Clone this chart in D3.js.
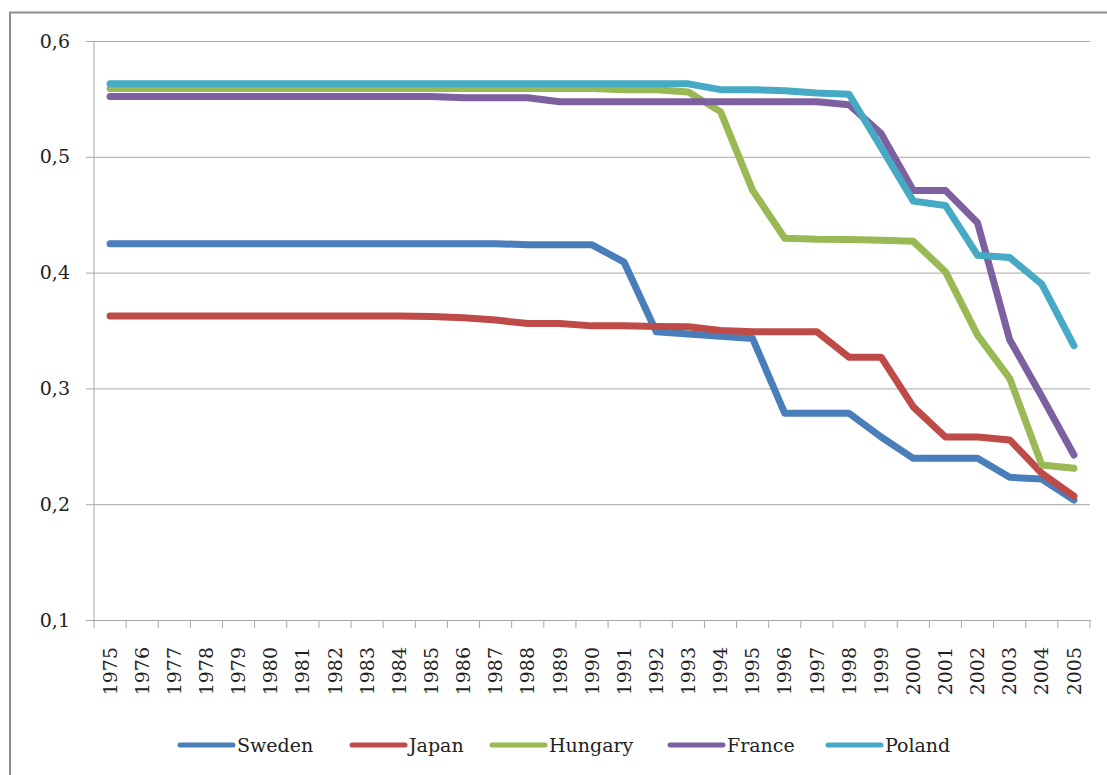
<!DOCTYPE html>
<html>
  <head>
    <meta charset="UTF-8" />
    <title>Index by country</title>
    <style>
      body { margin: 0; background: #fff; }
      svg text { font-family: "DejaVu Serif", serif; fill: #222; }
    </style>
    <script src="https://d3js.org/d3.v7.min.js"></script>
  </head>
  <body>
    <svg id="viz" width="1107" height="775"></svg>
    <script>
      // years on the x axis
      var years = d3.range(1975, 2006);
      var yTicks = [0.1, 0.2, 0.3, 0.4, 0.5, 0.6];
      var countries = ["Sweden", "Japan", "Hungary", "France", "Poland"];
      var colors = ["#4a7ebb", "#be4b48", "#98b954", "#7d60a0", "#46aac5"];

      // values, 1975..2005
      var sweden = [0.425, 0.425, 0.425, 0.425, 0.425, 0.425, 0.425, 0.425, 0.425, 0.425,
        0.425, 0.425, 0.425, 0.424, 0.424, 0.424, 0.409, 0.349, 0.347, 0.345,
        0.343, 0.2785, 0.2785, 0.2785, 0.258, 0.2396, 0.2396, 0.2396, 0.2232, 0.2218, 0.2036];
      var japan = [0.3625, 0.3625, 0.3625, 0.3625, 0.3625, 0.3625, 0.3625, 0.3625, 0.3625, 0.3625,
        0.362, 0.361, 0.359, 0.356, 0.356, 0.354, 0.354, 0.3535, 0.3533, 0.350,
        0.349, 0.349, 0.349, 0.327, 0.327, 0.284, 0.258, 0.258, 0.2555, 0.2267, 0.207];
      var hungary = [0.559, 0.559, 0.559, 0.559, 0.559, 0.559, 0.559, 0.559, 0.559, 0.559,
        0.559, 0.559, 0.559, 0.559, 0.559, 0.559, 0.558, 0.558, 0.556, 0.539,
        0.471, 0.4296, 0.4287, 0.4285, 0.428, 0.427, 0.4008, 0.346, 0.3087, 0.2338, 0.231];
      var france = [0.552, 0.552, 0.552, 0.552, 0.552, 0.552, 0.552, 0.552, 0.552, 0.552,
        0.552, 0.551, 0.551, 0.551, 0.5476, 0.5476, 0.5476, 0.5476, 0.5476, 0.5476,
        0.5476, 0.5476, 0.5476, 0.545, 0.52, 0.471, 0.471, 0.443, 0.342, 0.293, 0.2425];
      var poland = [0.563, 0.563, 0.563, 0.563, 0.563, 0.563, 0.563, 0.563, 0.563, 0.563,
        0.563, 0.563, 0.563, 0.563, 0.563, 0.563, 0.563, 0.563, 0.563, 0.558,
        0.558, 0.557, 0.555, 0.554, 0.508, 0.4617, 0.458, 0.415, 0.413, 0.39, 0.337];
      var seriesValues = [sweden, japan, hungary, france, poland];

      var svg = d3.select("#viz");
      // plot box (window.top is reserved, so own names here)
      var plotLeft = 94, plotRight = 1090, plotTop = 41, plotBottom = 620;

      var x = d3.scaleBand().domain(years).range([plotLeft, plotRight]).padding(0);
      var y = d3.scaleLinear().domain([0.1, 0.6]).range([plotBottom, plotTop]);
      var fmt = function (d) { return d3.format(".1f")(d).replace(".", ","); };

      // outer frame (only top and left edges show)
      svg.append("path")
        .attr("d", "M10,775 L10,12.5 L1107,12.5")
        .attr("fill", "none")
        .attr("stroke", "#8c8c8c")
        .attr("stroke-width", 2);

      // horizontal grid + y labels
      var yAxis = d3.axisLeft(y).tickValues(yTicks).tickFormat(fmt)
        .tickSize(-(plotRight - plotLeft)).tickPadding(16);
      var gy = svg.append("g").attr("transform", "translate(" + plotLeft + ",0)").call(yAxis);
      gy.select(".domain").remove();
      gy.selectAll(".tick line").attr("stroke", "#a6a6a6").attr("x1", -8);
      gy.selectAll(".tick text").attr("font-size", 19).attr("font-family", "DejaVu Serif")
        .attr("fill", "#222").attr("x", -24);

      // y axis line
      svg.append("line")
        .attr("x1", plotLeft).attr("x2", plotLeft).attr("y1", plotTop).attr("y2", plotBottom)
        .attr("stroke", "#a6a6a6");

      // x axis: ticks on band edges, labels in the middle
      var edges = years.map(function (d) { return x(d); }).concat([plotRight]);
      svg.append("g").selectAll("line").data(edges).join("line")
        .attr("x1", function (d) { return d; }).attr("x2", function (d) { return d; })
        .attr("y1", plotBottom).attr("y2", plotBottom + 8)
        .attr("stroke", "#a6a6a6");

      var xAxis = d3.axisBottom(x).tickSize(0).tickPadding(0);
      var gx = svg.append("g").attr("transform", "translate(0," + plotBottom + ")").call(xAxis);
      gx.select(".domain").attr("stroke", "#a6a6a6");
      gx.selectAll(".tick text")
        .attr("font-size", 19).attr("font-family", "DejaVu Serif").attr("fill", "#222")
        .attr("transform", "rotate(-90)")
        .attr("text-anchor", "end")
        .attr("x", -27).attr("y", 0).attr("dy", "0.35em");

      // lines
      var line = d3.line()
        .x(function (d, i) { return x(years[i]) + x.bandwidth() / 2; })
        .y(function (d) { return y(d); });

      svg.append("g").selectAll("path").data(seriesValues).join("path")
        .attr("d", line)
        .attr("fill", "none")
        .attr("stroke", function (d, i) { return colors[i]; })
        .attr("stroke-width", 7)
        .attr("stroke-linejoin", "round")
        .attr("stroke-linecap", "round");

      // legend
      var legendX = [180, 352, 492, 670, 828];
      var lg = svg.append("g").selectAll("g").data(countries).join("g")
        .attr("transform", function (d, i) { return "translate(" + legendX[i] + ",745)"; });
      lg.append("line")
        .attr("x1", 0).attr("x2", 53).attr("y1", 0).attr("y2", 0)
        .attr("stroke", function (d, i) { return colors[i]; })
        .attr("stroke-width", 5)
        .attr("stroke-linecap", "round");
      lg.append("text")
        .attr("x", 57).attr("y", 0).attr("dy", "0.35em")
        .attr("font-size", 19)
        .text(function (d) { return d; });
    </script>
  </body>
</html>
